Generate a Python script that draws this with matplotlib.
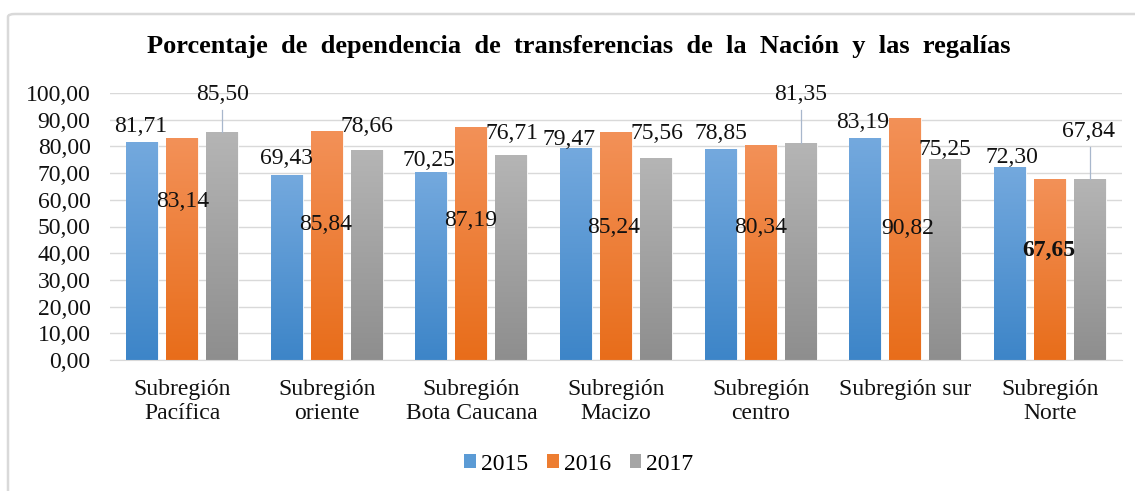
import numpy as np
import matplotlib
matplotlib.use('Agg')
import matplotlib.pyplot as plt
from matplotlib.colors import LinearSegmentedColormap
from matplotlib.patches import FancyBboxPatch, Patch
from matplotlib.ticker import FuncFormatter

plt.rcParams['font.family'] = ['Liberation Serif', 'DejaVu Serif']

# datos
categorias = ['Subregión\nPacífica', 'Subregión\noriente', 'Subregión\nBota Caucana',
              'Subregión\nMacizo', 'Subregión\ncentro', 'Subregión sur', 'Subregión\nNorte']
anios = ['2015', '2016', '2017']
v2015 = [81.71, 69.43, 70.25, 79.47, 78.85, 83.19, 72.30]
v2016 = [83.14, 85.84, 87.19, 85.24, 80.34, 90.82, 67.65]
v2017 = [85.50, 78.66, 76.71, 75.56, 81.35, 75.25, 67.84]
series = [v2015, v2016, v2017]

# posiciones de las etiquetas (desplazamiento x respecto a la categoria, y en valor)
etiq_dx = [
    [-0.286, -0.276, -0.294, -0.326, -0.275, -0.293, -0.262],
    [0.005, -0.006, -0.003, -0.015, 0.002, 0.019, -0.006],
    [0.281, 0.277, 0.28, 0.283, 0.279, 0.275, 0.27],
]
etiq_y = [
    [87.6, 75.3, 74.9, 82.4, 85.0, 88.8, 76.0],
    [59.2, 50.9, 52.4, 49.8, 49.8, 49.1, 41.2],
    [99.3, 87.3, 85.0, 85.0, 99.3, 79.0, 85.4],
]
# lineas guia (serie 2017)
guia_top = {0: 93.6, 4: 93.6, 6: 79.8}

colores = [('#74a9de', '#3d85c8'), ('#f39158', '#e86d1a'), ('#b5b5b5', '#8e8e8e')]
base = ['#5b9bd5', '#ed7d31', '#a5a5a5']
FS = 17

fig = plt.figure(figsize=(11.35, 4.91), dpi=100)
ax = fig.add_axes([110 / 1135, 1 - 360 / 491, 1012 / 1135, 267 / 491])

x = np.arange(len(categorias))
ancho = 0.221
paso = 0.277
grad = np.linspace(1, 0, 256).reshape(-1, 1)

for i, vals in enumerate(series):
    barras = ax.bar(x + (i - 1) * paso, vals, ancho, color=base[i], zorder=2,
                    edgecolor='white', linewidth=0.6)
    cmap = LinearSegmentedColormap.from_list('g%d' % i, [colores[i][1], colores[i][0]])
    for b in barras:
        x0, w, h = b.get_x(), b.get_width(), b.get_height()
        im = ax.imshow(grad, extent=[x0, x0 + w, 0, h], aspect='auto', cmap=cmap,
                       zorder=2.5, origin='upper', interpolation='bicubic')
        im.set_clip_path(b)
    for j, v in enumerate(vals):
        peso = 'bold' if (i == 1 and j == 6) else 'normal'
        ax.text(x[j] + etiq_dx[i][j], etiq_y[i][j], f'{v:.2f}'.replace('.', ','),
                ha='center', va='center', fontsize=FS, fontweight=peso,
                color='#111111', zorder=5, clip_on=False)

for j, top in guia_top.items():
    xx = x[j] + paso
    ax.plot([xx, xx], [series[2][j], top], color='#a8b7cc', lw=0.9, zorder=3, clip_on=False)

ax.set_xlim(-0.5, len(categorias) - 0.5)
ax.set_ylim(0, 100)
ax.set_yticks(np.arange(0, 101, 10))
ax.yaxis.set_major_formatter(FuncFormatter(lambda v, p: f'{v:.2f}'.replace('.', ',')))
ax.set_xticks(x)
ax.set_xticklabels(categorias, linespacing=1.18)
ax.tick_params(axis='both', length=0, labelsize=FS, colors='#111111')
ax.tick_params(axis='y', pad=14)
ax.tick_params(axis='x', pad=14)
ax.grid(axis='y', color='#d9d9d9', lw=1, zorder=0)
ax.set_axisbelow(True)
for s in ['top', 'right', 'left']:
    ax.spines[s].set_visible(False)
ax.spines['bottom'].set_color('#d9d9d9')

fig.text(0.51, 1 - 47 / 491, 'Porcentaje  de  dependencia  de  transferencias  de  la  Nación  y  las  regalías',
         ha='center', va='center', fontsize=19, fontweight='bold')

handles = [Patch(facecolor=base[i]) for i in range(3)]
fig.legend(handles, anios, loc='center', bbox_to_anchor=(0.51, 1 - 464 / 491), ncol=3,
           frameon=False, fontsize=FS, handlelength=0.5, handleheight=0.5,
           handletextpad=0.2, columnspacing=0.8)

marco = FancyBboxPatch((8 / 1135, -0.05), 1.1, 1 - 14 / 491 + 0.05, boxstyle='round,pad=0,rounding_size=0.006',
                       transform=fig.transFigure, fill=False, edgecolor='#d9d9d9', lw=1.8)
fig.patches.append(marco)

fig.savefig('out.png', dpi=100)
